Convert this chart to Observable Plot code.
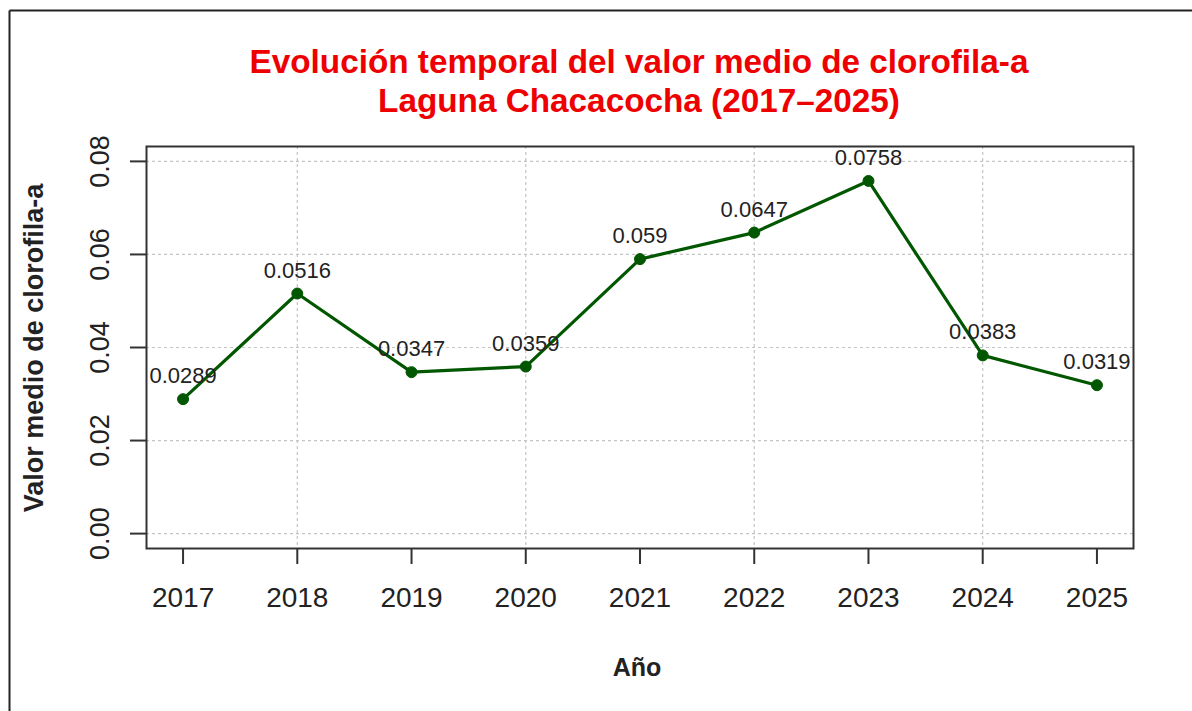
<!DOCTYPE html>
<html>
<head>
<meta charset="utf-8">
<script src="https://cdn.jsdelivr.net/npm/d3@7"></script>
<script src="https://cdn.jsdelivr.net/npm/@observablehq/plot@0.6"></script>
<style>
  html, body { margin: 0; padding: 0; background: #fff; }
  svg { display: block; }
</style>
</head>
<body>
<div id="chart"></div>
<script>
const years = [2017, 2018, 2019, 2020, 2021, 2022, 2023, 2024, 2025];
const values = [0.0289, 0.0516, 0.0347, 0.0359, 0.0590, 0.0647, 0.0758, 0.0383, 0.0319];
const valueLabels = ["0.0289", "0.0516", "0.0347", "0.0359", "0.059", "0.0647", "0.0758", "0.0383", "0.0319"];
const yTicks = [0, 0.02, 0.04, 0.06, 0.08];
const xGridYears = [2018, 2020, 2022, 2024];
const titleLines = ["Evolución temporal del valor medio de clorofila-a", "Laguna Chacacocha (2017–2025)"];
const xLabel = "Año";
const yLabel = "Valor medio de clorofila-a";

const data = years.map((year, i) => ({year, value: values[i], label: valueLabels[i]}));

const FONT = "'Liberation Sans', Arial, Helvetica, sans-serif";
const green = "#005700";
const gridStyle = {stroke: "#c4c4c4", strokeOpacity: 1, strokeWidth: 1.2, strokeDasharray: "3,3"};

const chart = Plot.plot({
  width: 1192,
  height: 711,
  marginLeft: 146,
  marginRight: 59,
  marginTop: 146,
  marginBottom: 163,
  style: {fontFamily: FONT, background: "#fff", color: "#222"},
  x: {domain: [2016.68, 2025.32]},
  y: {domain: [-0.0032, 0.0832]},
  marks: [
    Plot.gridY(yTicks, gridStyle),
    Plot.gridX(xGridYears, gridStyle),
    Plot.axisY(yTicks, {
      tickSize: 16, tickRotate: -90, tickPadding: 22, fontSize: 27,
      tickFormat: d3.format(".2f"), stroke: "#333", strokeWidth: 2, fill: "#222", label: null
    }),
    Plot.axisX(years, {
      tickSize: 16, tickPadding: 23, fontSize: 28,
      tickFormat: d => String(d), stroke: "#333", strokeWidth: 2, fill: "#222", label: null
    }),
    Plot.line(data, {x: "year", y: "value", stroke: green, strokeWidth: 3.2}),
    Plot.dot(data, {x: "year", y: "value", r: 5.5, fill: green, stroke: green, strokeWidth: 1}),
    Plot.text(data, {x: "year", y: "value", text: "label", lineAnchor: "bottom", dy: -16, fontSize: 22, fill: "#222"}),
    Plot.frame({stroke: "#333", strokeWidth: 2})
  ]
});

const svg = d3.select(chart);
// outer figure border (top and left edges visible)
svg.append("line").attr("x1", 9.5).attr("y1", 10.5).attr("x2", 1192).attr("y2", 10.5)
  .attr("stroke", "#222").attr("stroke-width", 2);
svg.append("line").attr("x1", 9.5).attr("y1", 10.5).attr("x2", 9.5).attr("y2", 711)
  .attr("stroke", "#222").attr("stroke-width", 2);

// title
const t = svg.append("text").attr("text-anchor", "middle").attr("fill", "#ee0000")
  .attr("font-family", FONT).attr("font-weight", "bold").attr("font-size", 33.3);
t.append("tspan").attr("x", 639).attr("y", 73).text(titleLines[0]);
t.append("tspan").attr("x", 639).attr("y", 112).text(titleLines[1]);

// axis titles
svg.append("text").attr("x", 637).attr("y", 676).attr("text-anchor", "middle")
  .attr("font-family", FONT).attr("font-weight", "bold").attr("font-size", 25).attr("fill", "#222")
  .text(xLabel);
svg.append("text").attr("transform", "translate(43,348) rotate(-90)").attr("text-anchor", "middle")
  .attr("font-family", FONT).attr("font-weight", "bold").attr("font-size", 27).attr("fill", "#222")
  .text(yLabel);

document.getElementById("chart").appendChild(chart);
</script>
</body>
</html>
